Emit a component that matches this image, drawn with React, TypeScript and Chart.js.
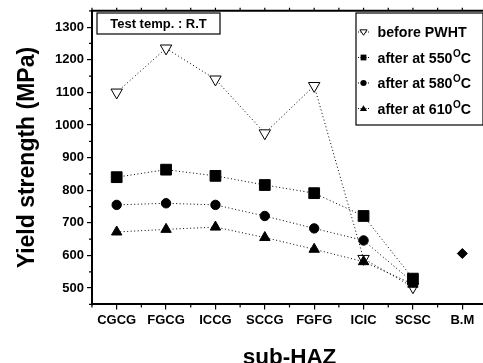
import React, { useEffect, useRef } from 'react';
import { Chart, registerables } from 'chart.js';
Chart.register(...registerables);

const FONT = "'Liberation Sans', Arial, sans-serif";

const categories = ['CGCG', 'FGCG', 'ICCG', 'SCCG', 'FGFG', 'ICIC', 'SCSC', 'B.M'];
const beforePWHT = [1100, 1235, 1140, 975, 1120, 590, 503, null];
const after550 = [840, 863, 844, 816, 791, 721, 529, null];
const after580 = [755, 760, 755, 721, 683, 646, 518, null];
const after610 = [672, 680, 687, 655, 619, 581, 512, null];
const baseMetal = [null, null, null, null, null, null, null, 606];
const yTicks = [500, 600, 700, 800, 900, 1000, 1100, 1200, 1300];
const legendNames = ['before PWHT', 'after at 550', 'after at 580', 'after at 610'];
const boxText = 'Test temp. : R.T';

function drawMarker(ctx: CanvasRenderingContext2D, kind: number, x: number, y: number, s: number) {
  ctx.beginPath();
  if (kind === 0) {
    ctx.moveTo(x - s, y - s * 0.6);
    ctx.lineTo(x + s, y - s * 0.6);
    ctx.lineTo(x, y + s * 0.9);
    ctx.closePath();
    ctx.fillStyle = '#fff';
    ctx.fill();
    ctx.lineWidth = 1;
    ctx.stroke();
  } else if (kind === 1) {
    ctx.rect(x - s * 0.8, y - s * 0.8, s * 1.6, s * 1.6);
    ctx.fillStyle = '#000';
    ctx.fill();
  } else if (kind === 2) {
    ctx.arc(x, y, s * 0.85, 0, Math.PI * 2);
    ctx.fillStyle = '#000';
    ctx.fill();
  } else {
    ctx.moveTo(x - s, y + s * 0.7);
    ctx.lineTo(x + s, y + s * 0.7);
    ctx.lineTo(x, y - s * 0.9);
    ctx.closePath();
    ctx.fillStyle = '#000';
    ctx.fill();
  }
}

const overlayPlugin = {
  id: 'overlay',
  afterDraw(chart: any) {
    const { ctx, chartArea: ca, scales } = chart;
    const xs = scales.x;
    const ys = scales.y;
    ctx.save();
    ctx.strokeStyle = '#000';
    // frame top & right
    ctx.lineWidth = 2;
    ctx.beginPath();
    ctx.moveTo(ca.left - 1, ca.top);
    ctx.lineTo(ca.right, ca.top);
    ctx.lineTo(ca.right, ca.bottom);
    ctx.stroke();
    // minor ticks
    ctx.lineWidth = 1.2;
    ctx.beginPath();
    for (let i = 0; i <= categories.length; i++) {
      const b = xs.getPixelForValue(i - 0.5);
      ctx.moveTo(b, ca.bottom);
      ctx.lineTo(b, ca.bottom + 3);
      ctx.moveTo(b, ca.top);
      ctx.lineTo(b, ca.top - 3);
      if (i < categories.length) {
        const c = xs.getPixelForValue(i);
        ctx.moveTo(c, ca.top);
        ctx.lineTo(c, ca.top - 3);
      }
    }
    for (let v = 450; v <= 1350; v += 100) {
      const p = ys.getPixelForValue(v);
      ctx.moveTo(ca.left, p);
      ctx.lineTo(ca.left - 3, p);
    }
    ctx.stroke();

    // Test temp box
    ctx.lineWidth = 1.2;
    ctx.fillStyle = '#fff';
    ctx.fillRect(97, 13, 123, 21);
    ctx.strokeRect(97, 13, 123, 21);
    ctx.fillStyle = '#000';
    ctx.font = `bold 13px ${FONT}`;
    ctx.textAlign = 'center';
    ctx.textBaseline = 'middle';
    ctx.fillText(boxText, 158.5, 24);

    // legend box
    const lx = 356, ly = 13, lw = 127, lh = 112;
    ctx.fillStyle = '#fff';
    ctx.fillRect(lx, ly, lw, lh);
    ctx.lineWidth = 1.2;
    ctx.strokeRect(lx, ly, lw, lh);
    ctx.textAlign = 'left';
    ctx.textBaseline = 'alphabetic';
    for (let i = 0; i < legendNames.length; i++) {
      const ry = 32 + i * 25.5;
      ctx.setLineDash([1, 1.5]);
      ctx.lineWidth = 1;
      ctx.beginPath();
      ctx.moveTo(358, ry);
      ctx.lineTo(369, ry);
      ctx.stroke();
      ctx.setLineDash([]);
      drawMarker(ctx, i, 363.5, ry, 3.6);
      ctx.fillStyle = '#000';
      ctx.font = `bold 14.2px ${FONT}`;
      const tx = 377.5;
      const base = ry + 5;
      ctx.fillText(legendNames[i], tx, base);
      if (i > 0) {
        const w = ctx.measureText(legendNames[i]).width;
        ctx.font = `bold 10px ${FONT}`;
        ctx.fillText('O', tx + w + 0.5, base - 6);
        const w2 = ctx.measureText('O').width;
        ctx.font = `bold 14.2px ${FONT}`;
        ctx.fillText('C', tx + w + 0.5 + w2, base);
      }
    }
    ctx.restore();
  },
};

export default function App() {
  const ref = useRef<HTMLCanvasElement>(null);
  useEffect(() => {
    if (!ref.current) return;
    const common = {
      borderColor: '#000',
      borderWidth: 1,
      borderDash: [1, 2.5],
      pointBorderColor: '#000',
      pointBorderWidth: 1,
      tension: 0,
      spanGaps: false,
    };
    const chart = new Chart(ref.current, {
      type: 'line',
      data: {
        labels: categories,
        datasets: [
          { ...common, label: 'after at 610', data: after610, pointStyle: 'triangle', pointRadius: 6, pointBackgroundColor: '#000' },
          { ...common, label: 'after at 580', data: after580, pointStyle: 'circle', pointRadius: 4.7, pointBackgroundColor: '#000' },
          { ...common, label: 'after at 550', data: after550, pointStyle: 'rect', pointRadius: 7.6, pointBackgroundColor: '#000' },
          { ...common, label: 'before PWHT', data: beforePWHT, pointStyle: 'triangle', pointRotation: 180, pointRadius: 6.6, pointBackgroundColor: '#fff' },
          { ...common, label: 'B.M', data: baseMetal, pointStyle: 'rectRot', pointRadius: 5, pointBackgroundColor: '#000', showLine: false },
        ] as any,
      },
      options: {
        responsive: false,
        animation: false,
        devicePixelRatio: 1,
        layout: { autoPadding: false, padding: { top: 10, right: 1, left: 14, bottom: -8 } },
        plugins: { legend: { display: false }, tooltip: { enabled: false } },
        scales: {
          x: {
            type: 'category',
            offset: true,
            afterFit: (s: any) => { s.paddingRight = 0; s.paddingLeft = 0; },
            grid: { display: true, drawOnChartArea: false, offset: false, tickLength: 5, color: '#000', lineWidth: 1.2 },
            border: { display: true, color: '#000', width: 2 },
            ticks: { color: '#000', font: { family: FONT, size: 13, weight: 'bold' }, padding: 3, maxRotation: 0, autoSkip: false },
            title: { display: true, text: 'sub-HAZ', color: '#000', font: { family: FONT, size: 22.5, weight: 'bold' }, padding: { top: 13, bottom: 0 } },
          },
          y: {
            min: 450,
            max: 1350,
            afterBuildTicks: (s: any) => { s.ticks = yTicks.map((v) => ({ value: v })); },
            afterFit: (s: any) => { s.width = 78; },
            grid: { display: true, drawOnChartArea: false, tickLength: 5, color: '#000', lineWidth: 1.2 },
            border: { display: true, color: '#000', width: 2 },
            ticks: { color: '#000', font: { family: FONT, size: 13, weight: 'bold' }, padding: 3, callback: (v: any) => String(v) },
            title: { display: true, text: 'Yield strength (MPa)', color: '#000', font: { family: FONT, size: 23, weight: 'bold' }, padding: { top: 0, bottom: 10 } },
          },
        },
      } as any,
      plugins: [overlayPlugin],
    });
    return () => chart.destroy();
  }, []);
  return (
    <div style={{ position: 'fixed', left: 0, top: 0, width: 483, height: 363, overflow: 'hidden', background: '#fff' }}>
      <canvas ref={ref} width={488} height={363} />
    </div>
  );
}
